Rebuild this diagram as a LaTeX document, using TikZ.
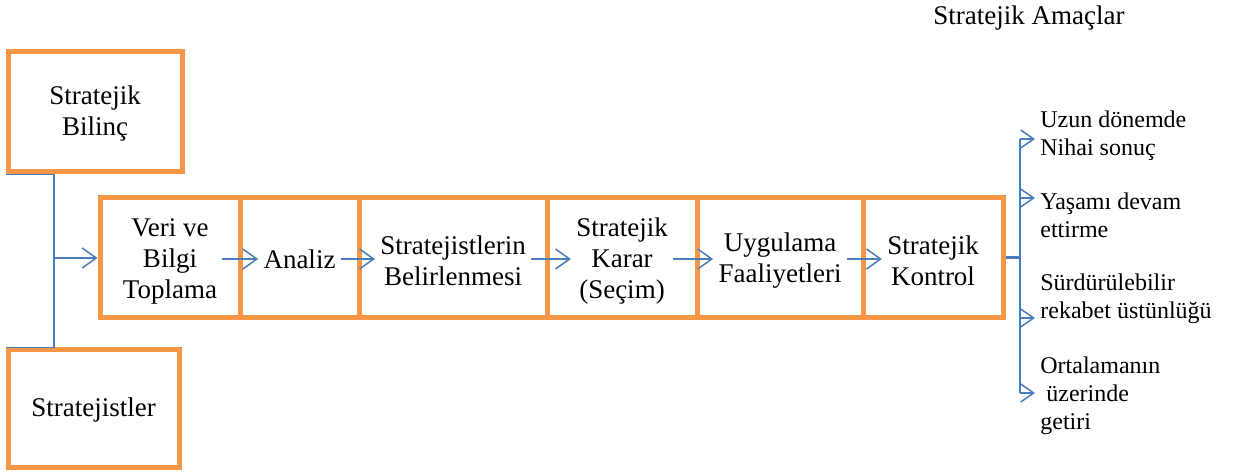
\documentclass[tikz,border=0pt]{standalone}
\usepackage{fontspec}
\setmainfont{Liberation Serif}
\usetikzlibrary{arrows.meta}
\definecolor{boxorange}{HTML}{F79646}
\definecolor{linkblue}{HTML}{4A7EBB}
\begin{document}
\begin{tikzpicture}[x=0.5pt,y=-0.5pt,
  framebox/.style={draw=boxorange,line width=2.5pt,inner sep=0pt,minimum height=60pt},
  celltext/.style={align=center,inner sep=2.5pt,font=\fontsize{13.5}{15.5}\selectfont},
  goaltext/.style={align=left,anchor=west,inner sep=0pt,font=\fontsize{12}{14}\selectfont},
  link/.style={draw=linkblue,line width=0.75pt},
  flow/.style={link,-{Straight Barb[length=7pt,width=10pt]}},
  goal/.style={link,-{Straight Barb[length=6.5pt,width=9pt]}}]
\useasboundingbox (0,0) rectangle (1239,475);

% title of the goal list
\node[anchor=west,inner sep=0pt,font=\fontsize{13.5}{15.5}\selectfont] (title) at (933,18) {Stratejik Amaçlar};

% inputs on the left
\node[framebox,minimum width=87pt] (bilinc) at (95,112) {};
\node[celltext] (bilinctext) at (95,114) {Stratejik\\Bilinç};
\node[framebox,minimum width=85.5pt,minimum height=59pt] (stratejist) at (93.5,409) {};
\node[celltext] (stratejisttext) at (93.5,410) {Stratejistler};

% process chain: frames
\node[framebox,minimum width=70pt]   (c1) at (170,258) {};
\node[framebox,minimum width=59.5pt] (c2) at (299.5,258) {};
\node[framebox,minimum width=94pt]   (c3) at (453,258) {};
\node[framebox,minimum width=75pt]   (c4) at (622,258) {};
\node[framebox,minimum width=83pt]   (c5) at (780,258) {};
\node[framebox,minimum width=70pt]   (c6) at (933,258) {};

% process chain: texts
\node[celltext] (t1) at (170,261) {Veri ve\\Bilgi\\Toplama};
\node[celltext] (t2) at (299.5,259) {Analiz};
\node[celltext] (t3) at (453,261) {Stratejistlerin\\Belirlenmesi};
\node[celltext] (t4) at (622,261) {Stratejik\\Karar\\(Seçim)};
\node[celltext] (t5) at (780,261) {Uygulama\\Faaliyetleri};
\node[celltext] (t6) at (933,261) {Stratejik\\Kontrol};

% joining the two inputs into the chain
\coordinate (join) at (54,258);
\draw[link] (bilinc.south west) -| (join) |- (stratejist.north west);
\draw[flow] (join) -- (c1.west);

% arrows along the chain
\draw[flow] (t1.east |- t2.east) -- (t2.west);
\draw[flow] (t2.east) -- (t3.west |- t2.west);
\draw[flow] (t3.east |- t2.east) -- (t4.west |- t2.west);
\draw[flow] (t4.east |- t2.east) -- (t5.west |- t2.west);
\draw[flow] (t5.east |- t2.east) -- (t6.west |- t2.west);

% branching to the strategic goals
\coordinate (hub) at (1020,258);
\draw[draw=linkblue,line width=1.5pt] (c6.east) -- (hub);
\coordinate (g1) at (1020,139);
\coordinate (g2) at (1020,198);
\coordinate (g3) at (1020,318);
\coordinate (g4) at (1020,393);
\coordinate (e1) at (1035,139);
\coordinate (e2) at (1035,198);
\coordinate (e3) at (1035,318);
\coordinate (e4) at (1035,393);
\draw[link] (g1) -- (g4);
\draw[goal] (g1) -- (e1);
\draw[goal] (g2) -- (e2);
\draw[goal] (g3) -- (e3);
\draw[goal] (g4) -- (e4);

\node[goaltext] (a1) at (1040,136) {Uzun dönemde\\Nihai sonuç};
\node[goaltext] (a2) at (1040,215) {Yaşamı devam\\ettirme};
\node[goaltext] (a3) at (1040,299) {Sürdürülebilir\\rekabet üstünlüğü};
\node[goaltext] (a4) at (1040,396) {Ortalamanın\\\hspace*{3pt}üzerinde\\getiri};
\end{tikzpicture}
\end{document}
